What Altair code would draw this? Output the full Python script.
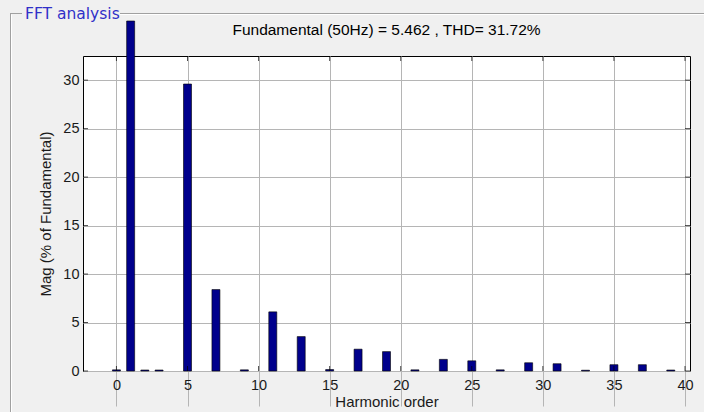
import altair as alt
import pandas as pd

# Harmonic spectrum of the signal, magnitude in % of the fundamental
harmonics = [0, 1, 2, 3, 5, 7, 9, 11, 13, 15, 17, 19, 21, 23, 25, 27, 29, 31, 33, 35, 37, 39]
magnitudes = [0.12, 100, 0.1, 0.1, 29.6, 8.4, 0.12, 6.1, 3.55, 0.15, 2.25, 2.0,
              0.12, 1.2, 1.05, 0.12, 0.85, 0.75, 0.08, 0.65, 0.65, 0.1]

x_ticks = [0, 5, 10, 15, 20, 25, 30, 35, 40]
y_ticks = [0, 5, 10, 15, 20, 25, 30]

title_text = "Fundamental (50Hz) = 5.462 , THD= 31.72%"
panel_text = "FFT analysis"

W, H = 607, 315
FONT = "Liberation Sans"
BAR_FILL = "#00008c"

df = pd.DataFrame({"h": harmonics, "mag": magnitudes})

x_scale = alt.Scale(domain=[-2, 40], nice=False, zero=False)
# Axes box shows 0..32.5; the scale keeps going past the box top so that the
# off-scale fundamental is cut at the panel edge (clamped), as in the figure window
y_scale = alt.Scale(domain=[0, 36.1], range=[H, -35], nice=False, clamp=True)

bars = alt.Chart(df).mark_bar(
    size=8, fill=BAR_FILL, stroke="black", strokeWidth=0.6, clip=False
).encode(
    x=alt.X("h:Q", scale=x_scale,
            axis=alt.Axis(values=x_ticks, title="Harmonic order", grid=True, domain=False,
                          labelPadding=7, titlePadding=3, titleFontSize=15)),
    y=alt.Y("mag:Q", scale=y_scale,
            axis=alt.Axis(values=y_ticks, title="Mag (% of Fundamental)", grid=True, domain=False,
                          labelPadding=4, titlePadding=9, titleFontSize=15, titleY=H / 2)),
)

# Inward tick marks along the four sides of the axes box
tick_df_x = pd.DataFrame({"h": x_ticks})
tick_df_y = pd.DataFrame({"mag": y_ticks})
ticks_bottom = alt.Chart(tick_df_x).mark_tick(
    orient="vertical", size=5, thickness=1, color="black", yOffset=-2.5
).encode(x=alt.X("h:Q", scale=x_scale), y=alt.value(H))
ticks_top = alt.Chart(tick_df_x).mark_tick(
    orient="vertical", size=5, thickness=1, color="black", yOffset=2.5
).encode(x=alt.X("h:Q", scale=x_scale), y=alt.value(0))
ticks_left = alt.Chart(tick_df_y).mark_tick(
    orient="horizontal", size=5, thickness=1, color="black", xOffset=2.5
).encode(y=alt.Y("mag:Q", scale=y_scale), x=alt.value(0))
ticks_right = alt.Chart(tick_df_y).mark_tick(
    orient="horizontal", size=5, thickness=1, color="black", xOffset=-2.5
).encode(y=alt.Y("mag:Q", scale=y_scale), x=alt.value(W))

# Group-box frame around the figure
one = pd.DataFrame({"k": [0]})
frame_top_a = alt.Chart(one).mark_rule(color="#a0a0a0", strokeWidth=1, clip=False).encode(
    x=alt.value(-73), x2=alt.value(-61), y=alt.value(-42.5))
frame_top_b = alt.Chart(one).mark_rule(color="#a0a0a0", strokeWidth=1, clip=False).encode(
    x=alt.value(37), x2=alt.value(W + 14), y=alt.value(-42.5))
frame_top_hl = alt.Chart(one).mark_rule(color="white", strokeWidth=1, clip=False).encode(
    x=alt.value(37), x2=alt.value(W + 14), y=alt.value(-41.5))
frame_left = alt.Chart(one).mark_rule(color="#a0a0a0", strokeWidth=1, clip=False).encode(
    x=alt.value(-72.5), y=alt.value(-42.5), y2=alt.value(H + 41))
frame_left_hl = alt.Chart(one).mark_rule(color="white", strokeWidth=1, clip=False).encode(
    x=alt.value(-71.5), y=alt.value(-41.5), y2=alt.value(H + 41))

panel_label = alt.Chart(pd.DataFrame({"s": [panel_text]})).mark_text(
    align="left", baseline="middle", font="DejaVu Sans", fontSize=15.5, color="#3030c8", clip=False
).encode(x=alt.value(-58), y=alt.value(-42), text="s:N")

# Title line above the axes
title_mark = alt.Chart(pd.DataFrame({"s": [title_text]})).mark_text(
    align="center", baseline="alphabetic", font=FONT, fontSize=15.5, color="black", clip=False
).encode(x=alt.value(W / 2), y=alt.value(-21), text="s:N")

chart = alt.layer(
    frame_top_a, frame_top_b, frame_top_hl, frame_left, frame_left_hl, panel_label, title_mark,
    bars, ticks_bottom, ticks_top, ticks_left, ticks_right,
).properties(
    width=W,
    height=H,
    autosize=alt.AutoSizeParams(type="none"),
    padding={"left": 83, "top": 56, "right": 14, "bottom": 41},
    background="#f0f0f0",
).configure_view(
    fill="white", stroke="black", strokeWidth=1
).configure_axis(
    labelFont=FONT, titleFont=FONT, labelFontSize=14.5, titleFontSize=15,
    labelColor="#1a1a1a", titleColor="#1a1a1a", titleFontWeight="normal",
    gridColor="#b5b5b5", gridWidth=1, ticks=False,
)

chart.save("out.html", embed_options={"renderer": "svg", "actions": False})
